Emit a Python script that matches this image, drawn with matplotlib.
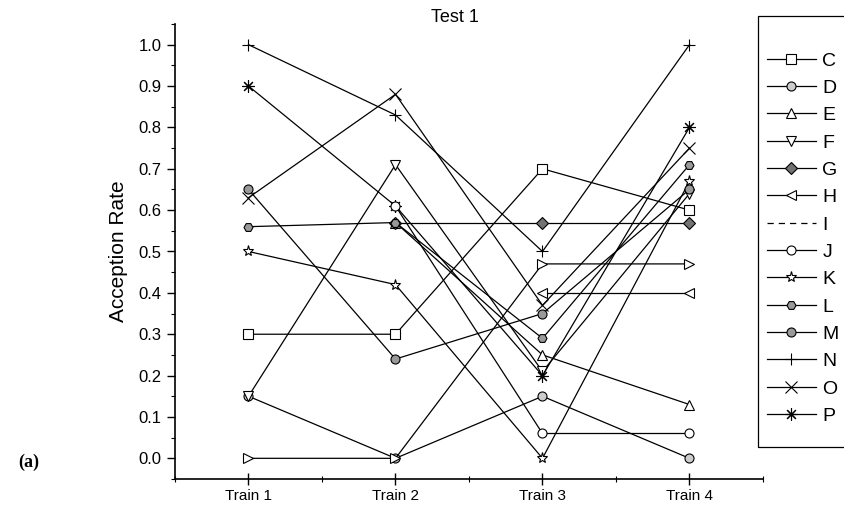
import numpy as np
import matplotlib
matplotlib.use("Agg")
import matplotlib.pyplot as plt
from matplotlib.lines import Line2D
from matplotlib.patches import Rectangle
from matplotlib.ticker import MultipleLocator

trains = ["Train 1", "Train 2", "Train 3", "Train 4"]
series_names = ["C", "D", "E", "F", "G", "H", "I", "J", "K", "L", "M", "N", "O", "P"]
nan = float("nan")

C = [0.30, 0.30, 0.70, 0.60]
D = [0.15, 0.00, 0.15, 0.00]
E = [nan, 0.57, 0.25, 0.13]
F = [0.15, 0.71, 0.21, 0.64]
G = [nan, 0.57, 0.57, 0.57]
H = [nan, nan, 0.40, 0.40]
I = [0.00, 0.00, 0.47, 0.47]
J = [nan, 0.61, 0.06, 0.06]
K = [0.50, 0.42, 0.00, 0.67]
L = [0.56, 0.57, 0.29, 0.71]
M = [0.65, 0.24, 0.35, 0.65]
N = [1.00, 0.83, 0.50, 1.00]
O = [0.63, 0.88, 0.37, 0.75]
P = [0.90, 0.61, 0.20, 0.80]

values = [C, D, E, F, G, H, I, J, K, L, M, N, O, P]

styles = {
    "C": dict(marker="s", mfc="white"),
    "D": dict(marker="o", mfc="0.8"),
    "E": dict(marker="^", mfc="white"),
    "F": dict(marker="v", mfc="white"),
    "G": dict(marker="D", mfc="0.45", ms=6),
    "H": dict(marker="<", mfc="white"),
    "I": dict(marker=">", mfc="white"),
    "J": dict(marker="o", mfc="white", zorder=5),
    "K": dict(marker="*", mfc="white", ms=8),
    "L": dict(marker="H", mfc="0.6"),
    "M": dict(marker="o", mfc="0.6"),
    "N": dict(marker="+", mfc="none", ms=8),
    "O": dict(marker="x", mfc="none", ms=8),
    "P": dict(marker=(8, 2, 0), mfc="none", ms=9),
}

plt.rcParams["font.family"] = ["Liberation Sans", "DejaVu Sans"]

fig = plt.figure(figsize=(8.45, 5.2), dpi=100)
ax = fig.add_axes([175 / 845, 1 - 479 / 520, (763 - 175) / 845, (479 - 24) / 520])

x = np.arange(1, len(trains) + 1)
handles = []
for name, vals in zip(series_names, values):
    st = dict(ms=6.5, mec="black", mew=0.8)
    st.update(styles[name])
    ax.plot(x, vals, color="black", lw=0.9, **st)
    st.pop("zorder", None)
    if name == "I":
        h = Line2D([], [], color="black", lw=0.9, ls=(0, (5, 4)))
    else:
        h = Line2D([], [], color="black", lw=0.9, **st)
    handles.append(h)

ax.set_xlim(0.5, 4.5)
ax.set_ylim(-0.05, 1.05)
ax.set_xticks(x)
ax.set_xticklabels(trains, fontsize=11)
ax.xaxis.set_minor_locator(MultipleLocator(0.5))
ax.yaxis.set_minor_locator(MultipleLocator(0.05))
yt = np.round(np.arange(0, 1.01, 0.1), 1)
ax.set_yticks(yt)
ax.set_yticklabels([f"{v:.1f}" for v in yt], fontsize=12)
ax.tick_params(axis="y", which="major", direction="out", length=6, width=1)
ax.tick_params(axis="y", which="minor", direction="out", length=3, width=0.8)
ax.tick_params(axis="x", which="major", direction="inout", length=8, width=1)
ax.tick_params(axis="x", which="minor", direction="inout", length=5, width=0.8)
for s in ["top", "right"]:
    ax.spines[s].set_visible(False)
for s in ["left", "bottom"]:
    ax.spines[s].set_linewidth(1.2)

ax.set_ylabel("Acception Rate", fontsize=15, labelpad=8)
fig.text(455 / 845, 1 - 17 / 520, "Test 1", ha="center", va="center", fontsize=13)
fig.text(18 / 845, 1 - 462 / 520, "(a)", ha="left", va="center", fontsize=13,
         fontweight="bold", family=["Liberation Serif", "DejaVu Serif"])

frame = Rectangle((758 / 845, 1 - 447 / 520), (900 - 758) / 845, (447 - 16) / 520,
                  transform=fig.transFigure, fill=False, edgecolor="black",
                  lw=0.9, clip_on=False)
fig.patches.append(frame)

leg = fig.legend(handles, series_names, loc="upper left",
                 bbox_to_anchor=(767 / 845, 1 - 52 / 520),
                 frameon=False, fontsize=14, handlelength=2.5,
                 handletextpad=0.35, labelspacing=0.5,
                 borderpad=0, borderaxespad=0)

fig.savefig("out.png", dpi=100)
